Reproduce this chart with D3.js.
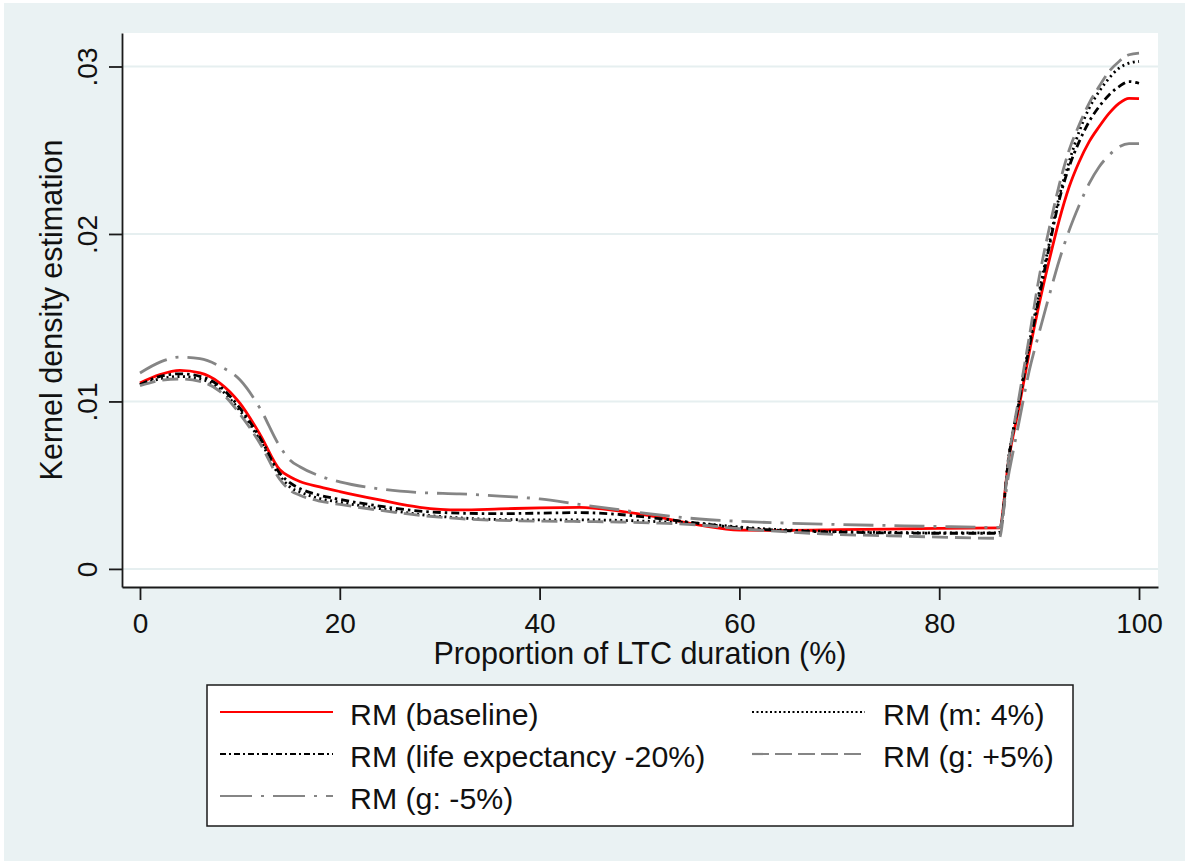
<!DOCTYPE html>
<html>
<head>
<meta charset="utf-8">
<script src="https://cdn.jsdelivr.net/npm/d3@7"></script>
<style>
  body { margin: 0; background: #fff; }
  svg { display: block; font-family: "Liberation Sans", Arial, Helvetica, sans-serif; }
</style>
</head>
<body>
<svg></svg>
<script>
// proportion of LTC duration (%)
let xValues = [0, 2, 4, 6, 8, 10, 12, 14, 15, 16, 18, 20, 24, 28, 32, 36, 40, 44, 48, 52, 56, 60, 65, 70, 75, 80, 86, 87, 88, 89, 90, 91, 92, 93, 94, 95, 96, 97, 98, 99, 100]

let baseline = [0.0111, 0.0116, 0.01185, 0.0117, 0.0111, 0.0099, 0.00805, 0.00592, 0.0055, 0.00522, 0.0049, 0.00462, 0.00412, 0.00368, 0.00352, 0.00358, 0.00365, 0.00368, 0.00345, 0.00308, 0.00262, 0.00232, 0.0023, 0.00234, 0.00238, 0.00242, 0.00245, 0.0067, 0.0097, 0.0129, 0.0158, 0.0184, 0.0208, 0.0228, 0.0243, 0.0255, 0.0264, 0.0272, 0.0278, 0.0281, 0.02808]
let m4 = [0.011, 0.01135, 0.01149, 0.01135, 0.01075, 0.00945, 0.0077, 0.00555, 0.0049, 0.0046, 0.0042, 0.00398, 0.0036, 0.00325, 0.00305, 0.00295, 0.00293, 0.00293, 0.0029, 0.00282, 0.00272, 0.0025, 0.00232, 0.00222, 0.00218, 0.00215, 0.00215, 0.0069, 0.0101, 0.0134, 0.0165, 0.0194, 0.0222, 0.0243, 0.0261, 0.0275, 0.0285, 0.0293, 0.0299, 0.0302, 0.0303]
let lifeExp = [0.011, 0.0115, 0.01165, 0.0115, 0.0109, 0.0096, 0.00785, 0.0057, 0.00515, 0.0048, 0.0044, 0.00415, 0.00375, 0.00345, 0.00333, 0.0033, 0.00333, 0.00336, 0.00325, 0.003, 0.00272, 0.00245, 0.00228, 0.0022, 0.00215, 0.00213, 0.00213, 0.0068, 0.01, 0.0132, 0.0162, 0.0192, 0.022, 0.024, 0.0255, 0.0267, 0.0276, 0.0283, 0.0288, 0.0291, 0.029]
let gPlus5 = [0.01094, 0.01125, 0.01134, 0.0112, 0.0106, 0.00925, 0.0075, 0.00535, 0.0047, 0.0044, 0.00405, 0.00385, 0.0035, 0.0032, 0.003, 0.0029, 0.00285, 0.00283, 0.0028, 0.00273, 0.00262, 0.0024, 0.0022, 0.00205, 0.00198, 0.0019, 0.00183, 0.0068, 0.0103, 0.0138, 0.0174, 0.0203, 0.0229, 0.025, 0.0265, 0.0278, 0.0288, 0.0297, 0.0303, 0.0307, 0.0308]
let gMinus5 = [0.0117, 0.01235, 0.01265, 0.01255, 0.0121, 0.01129, 0.0096, 0.00731, 0.00651, 0.0061, 0.00555, 0.0052, 0.00478, 0.00456, 0.00448, 0.00435, 0.00418, 0.00385, 0.00353, 0.00322, 0.00298, 0.00284, 0.00273, 0.00265, 0.00259, 0.00253, 0.00248, 0.0058, 0.0088, 0.0118, 0.0141, 0.0163, 0.0184, 0.0202, 0.0217, 0.023, 0.024, 0.0247, 0.0252, 0.0254, 0.0254]

let xTicks = [0, 20, 40, 60, 80, 100]
let yTicks = [0, 0.01, 0.02, 0.03]
let legendLabels = ['RM (baseline)', 'RM (m: 4%)', 'RM (life expectancy -20%)', 'RM (g: +5%)', 'RM (g: -5%)']

let width = 1189
let height = 864
let plot = { left: 122, right: 1158, top: 33, bottom: 587 }
let svg = d3.select('svg')

let seriesList = [
    { values: baseline, color: '#ff0000', dash: null, legendDash: null },
    { values: m4, color: '#000000', dash: '2 3.5', legendDash: '2 2.5' },
    { values: lifeExp, color: '#000000', dash: '8 4 2.5 4', legendDash: '6 3 2 3' },
    { values: gPlus5, color: '#858585', dash: '16 7', legendDash: '17 6' },
    { values: gMinus5, color: '#858585', dash: '30 9 3 9', legendDash: '32 9 3 9' }
]

let xScale, yScale

let drawCanvas = () => {
    svg.attr('width', width).attr('height', height)
    svg.append('rect')
        .attr('x', 4).attr('y', 3)
        .attr('width', width - 8).attr('height', height - 6)
        .attr('fill', '#eaf2f3')
    svg.append('rect')
        .attr('x', plot.left).attr('y', plot.top)
        .attr('width', plot.right - plot.left).attr('height', plot.bottom - plot.top)
        .attr('fill', '#ffffff')
}

let generateScales = () => {
    xScale = d3.scaleLinear()
        .domain([-1.8, 101.9])
        .range([plot.left, plot.right])
    yScale = d3.scaleLinear()
        .domain([-0.00108, 0.032])
        .range([plot.bottom, plot.top])
}

let drawGrid = () => {
    svg.append('g')
        .selectAll('line')
        .data(yTicks)
        .enter()
        .append('line')
        .attr('x1', plot.left)
        .attr('x2', plot.right)
        .attr('y1', (d) => yScale(d))
        .attr('y2', (d) => yScale(d))
        .attr('stroke', '#e6eff0')
        .attr('stroke-width', 2)
}

let drawLines = () => {
    let line = d3.line()
        .x((d, i) => xScale(xValues[i]))
        .y((d) => yScale(d))
        .curve(d3.curveMonotoneX)
    svg.append('g')
        .selectAll('path')
        .data(seriesList)
        .enter()
        .append('path')
        .attr('d', (s) => line(s.values))
        .attr('fill', 'none')
        .attr('stroke', (s) => s.color)
        .attr('stroke-width', 2.8)
        .attr('stroke-dasharray', (s) => s.dash)
}

let generateAxes = () => {
    let yFormat = (d) => d === 0 ? '0' : d3.format('.2f')(d).replace(/^0/, '')
    let xAxis = d3.axisBottom(xScale).tickValues(xTicks).tickSize(13).tickSizeOuter(0)
    let yAxis = d3.axisLeft(yScale).tickValues(yTicks).tickFormat(yFormat).tickSize(13).tickSizeOuter(0)

    let gx = svg.append('g')
        .attr('id', 'x-axis')
        .attr('transform', 'translate(0,' + plot.bottom + ')')
        .call(xAxis)
    gx.selectAll('text')
        .attr('font-size', 28)
        .attr('font-family', null)
        .attr('fill', '#111')
        .attr('y', 46)
        .attr('dy', null)

    let gy = svg.append('g')
        .attr('id', 'y-axis')
        .attr('transform', 'translate(' + plot.left + ',0)')
        .call(yAxis)
    gy.selectAll('text')
        .attr('font-size', 28)
        .attr('font-family', null)
        .attr('fill', '#111')
        .attr('x', null)
        .attr('dy', null)
        .attr('text-anchor', 'middle')
        .attr('transform', 'translate(-25,0) rotate(-90)')

    svg.selectAll('.domain, .tick line')
        .attr('stroke', '#1a1a1a')
        .attr('stroke-width', 1.8)

    svg.append('text')
        .attr('x', (plot.left + plot.right) / 2)
        .attr('y', 664)
        .attr('text-anchor', 'middle')
        .attr('font-size', 30.5)
        .attr('fill', '#111')
        .text('Proportion of LTC duration (%)')

    svg.append('text')
        .attr('transform', 'translate(62,' + (plot.top + plot.bottom) / 2 + ') rotate(-90)')
        .attr('text-anchor', 'middle')
        .attr('font-size', 30.5)
        .attr('fill', '#111')
        .text('Kernel density estimation')
}

let drawLegend = () => {
    let legend = svg.append('g')
    legend.append('rect')
        .attr('x', 207).attr('y', 685)
        .attr('width', 866).attr('height', 141)
        .attr('fill', '#ffffff')
        .attr('stroke', '#1a1a1a')
        .attr('stroke-width', 1.5)

    let items = legend.selectAll('g.item')
        .data(seriesList)
        .enter()
        .append('g')
        .attr('class', 'item')
        .attr('transform', (s, i) => 'translate(' + (i % 2 === 0 ? 220 : 752) + ',' + (712 + Math.floor(i / 2) * 42) + ')')
    items.append('line')
        .attr('x1', 0).attr('x2', 113)
        .attr('stroke', (s) => s.color)
        .attr('stroke-width', 2.2)
        .attr('stroke-dasharray', (s) => s.legendDash)
    items.append('text')
        .attr('x', (s, i) => i % 2 === 0 ? 130 : 131)
        .attr('y', 13)
        .attr('font-size', 30.3)
        .attr('fill', '#111')
        .text((s, i) => legendLabels[i])
}

drawCanvas()
generateScales()
drawGrid()
drawLines()
generateAxes()
drawLegend()
</script>
</body>
</html>
